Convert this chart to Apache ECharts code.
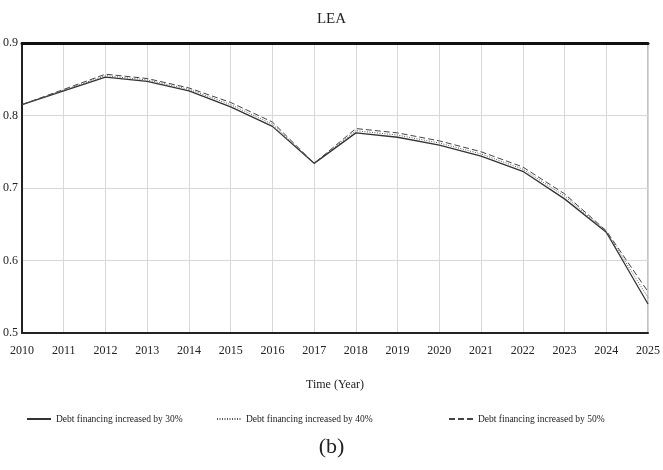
<!DOCTYPE html>
<html><head><meta charset="utf-8">
<script src="https://cdn.jsdelivr.net/npm/echarts@6/dist/echarts.min.js"></script>
<style>html,body{margin:0;padding:0;background:#fff}#c{width:663px;height:470px}</style>
</head><body><div id="c"></div>
<script>
var years = ['2010','2011','2012','2013','2014','2015','2016','2017','2018','2019','2020','2021','2022','2023','2024','2025'];
var debt30 = [0.815,0.834,0.853,0.847,0.834,0.812,0.785,0.734,0.776,0.770,0.759,0.744,0.723,0.685,0.639,0.540];
var debt40 = [0.815,0.835,0.855,0.849,0.836,0.815,0.788,0.734,0.779,0.773,0.762,0.747,0.726,0.689,0.640,0.549];
var debt50 = [0.815,0.836,0.857,0.851,0.838,0.818,0.791,0.734,0.782,0.776,0.765,0.750,0.729,0.692,0.641,0.557];
var names = ['Debt financing increased by 30%','Debt financing increased by 40%','Debt financing increased by 50%'];
var F = "'Liberation Serif','Times New Roman',serif";
var chart = echarts.init(document.getElementById('c'));
function leg(i, left){
  return {data:[names[i]], left:left, top:409, itemWidth:24, itemHeight:10, itemGap:8,
    itemStyle:{opacity:0},
    textStyle:{fontFamily:F,fontSize:9.5,color:'#222'}};
}
chart.setOption({
  animation:false,
  backgroundColor:'#fff',
  title:{text:'LEA',left:'center',top:7,textStyle:{fontFamily:F,fontSize:15,fontWeight:'normal',color:'#222'}},
  legend:[leg(0,21),leg(1,211),leg(2,443)],
  grid:{left:21,right:12,top:43,bottom:137,show:true,borderColor:'#888',borderWidth:1},
  xAxis:[{type:'category',data:years,boundaryGap:false,
    axisLine:{lineStyle:{color:'#222',width:2}},axisTick:{show:false},
    axisLabel:{fontFamily:F,fontSize:12,color:'#222',margin:12,showMaxLabel:true},
    splitLine:{show:true,lineStyle:{color:'#d8d8d8',width:1}},
    name:'Time (Year)',nameLocation:'middle',nameGap:46,
    nameTextStyle:{fontFamily:F,fontSize:12,color:'#222'}},
   {type:'category',data:years,boundaryGap:false,position:'top',
    axisLine:{lineStyle:{color:'#111',width:3}},axisTick:{show:false},axisLabel:{show:false},splitLine:{show:false}}],
  yAxis:{type:'value',min:0.5,max:0.9,interval:0.1,
    axisLine:{show:true,lineStyle:{color:'#222',width:2}},axisTick:{show:false},
    axisLabel:{fontFamily:F,fontSize:12,color:'#222',margin:4,formatter:function(v){return String(Math.round(v*10)/10);}},
    splitLine:{show:true,lineStyle:{color:'#d8d8d8',width:1}}},
  series:[
    {name:names[0],type:'line',data:debt30,symbol:'none',lineStyle:{color:'#333',width:1.3,type:'solid'},itemStyle:{color:'#333'}},
    {name:names[1],type:'line',data:debt40,symbol:'none',lineStyle:{color:'#555',width:1,type:[1,1.5]},itemStyle:{color:'#555'}},
    {name:names[2],type:'line',data:debt50,symbol:'none',lineStyle:{color:'#444',width:1,type:[6,3]},itemStyle:{color:'#444'}}
  ],
  graphic:[{type:'text',left:'center',top:436,style:{text:'(b)',font:"22px 'Liberation Serif',serif",fill:'#222'}}]
});
</script></body></html>
